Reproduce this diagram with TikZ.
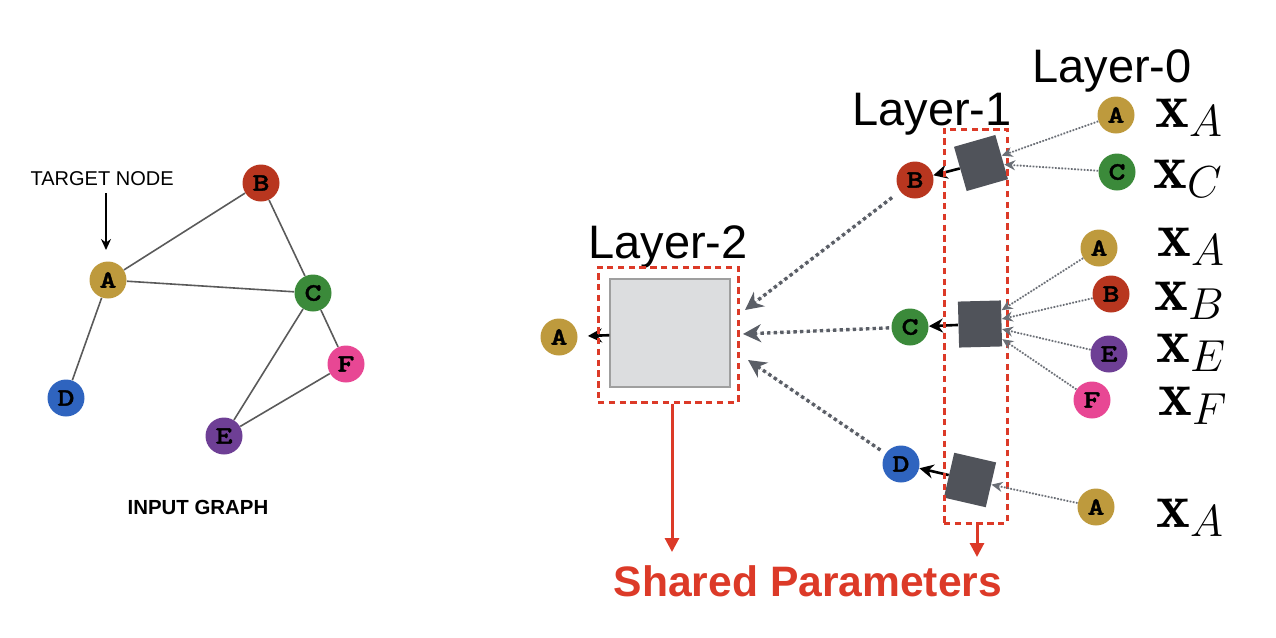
\RequirePackage{fix-cm}
\documentclass[tikz,border=0pt]{standalone}
\usepackage{fontspec}
\usetikzlibrary{arrows.meta}
\newfontfamily\helv{Liberation Sans}
\newfontfamily\monob{lmmonolt10-bold.otf}[FakeStretch=1.3,FakeBold=1.5]
\definecolor{cA}{HTML}{BE9A3D}
\definecolor{cB}{HTML}{B8361F}
\definecolor{cC}{HTML}{3B8A3A}
\definecolor{cD}{HTML}{2F64BF}
\definecolor{cE}{HTML}{6E3F95}
\definecolor{cF}{HTML}{E84794}
\definecolor{edgegray}{HTML}{5A5A5A}
\definecolor{arrgray}{HTML}{6A6E75}
\definecolor{arrgraytwo}{HTML}{5A5E66}
\definecolor{sqdark}{HTML}{50535A}
\definecolor{sqlight}{HTML}{DCDDDF}
\definecolor{sred}{HTML}{DC3A28}
\begin{document}
\begin{tikzpicture}[x=0.5pt,y=-0.5pt,
  gnode/.style={circle, fill=#1, minimum size=18.5pt, inner sep=0pt,
    font=\monob\fontsize{12.5}{12.5}\selectfont},
  gedge/.style={draw=edgegray, line width=0.8pt},
  thinarr/.style={draw=arrgray, line width=0.9pt, dash pattern=on 0.8pt off 0.8pt,
    -{Stealth[length=5.5pt,width=5pt]}, fill=arrgray},
  thickarr/.style={draw=arrgraytwo, line width=1.7pt, dash pattern=on 1.7pt off 1.6pt,
    -{Stealth[length=9pt,width=9pt]}, fill=arrgraytwo},
  blkarr/.style={draw=black, line width=1.3pt, -{Stealth[length=7pt,width=7pt]}},
  redbox/.style={draw=sred, line width=1.5pt, dash pattern=on 3.2pt off 2.2pt,
    rectangle, inner sep=0pt},
  redarr/.style={draw=sred, line width=1.5pt, -{Triangle[length=7pt,width=7pt]}, fill=sred},
  darksq/.style={fill=sqdark, rectangle, minimum width=21.5pt, minimum height=23pt, inner sep=0pt},
  xlab/.style={anchor=base west, inner sep=0pt, text height=14.5pt, text depth=6pt,
    font=\fontsize{32}{34}\selectfont},
  laylab/.style={anchor=base west, inner sep=0pt, text depth=4pt, font=\helv\fontsize{23.5}{26}\selectfont}
]
\useasboundingbox (0,0) rectangle (1276,638);

% ---------------- input graph ----------------
\node[gnode=cB] (gB) at (261,183) {B};
\node[gnode=cA] (gA) at (108,280) {A};
\node[gnode=cC] (gC) at (313,293) {C};
\node[gnode=cD] (gD) at (66,398) {D};
\node[gnode=cF] (gF) at (346,364) {F};
\node[gnode=cE] (gE) at (224,436) {E};
\draw[gedge] (gA) -- (gB);
\draw[gedge] (gA) -- (gC);
\draw[gedge] (gA) -- (gD);
\draw[gedge] (gB) -- (gC);
\draw[gedge] (gC) -- (gE);
\draw[gedge] (gC) -- (gF);
\draw[gedge] (gE) -- (gF);
\node[anchor=base east, inner sep=0pt, font=\helv\fontsize{10}{12}\selectfont] (tgt) at (174,185) {TARGET NODE};
\coordinate (tgtend) at (106,250);
\draw[black, line width=0.8pt, -{Stealth[length=5.5pt,width=5pt]}] (106,193) -- (tgtend);
\node[anchor=base, inner sep=0pt, font=\helv\bfseries\fontsize{10.2}{12}\selectfont] (ig) at (198,514) {INPUT GRAPH};

% ---------------- layer 2 ----------------
\node[laylab] (lay2) at (588,258) {Layer-2};
\node[rectangle, fill=sqlight, draw=gray!75, line width=0.6pt, minimum width=60pt, minimum height=54pt, inner sep=0pt] (l2sq) at (670,333) {};
\node[gnode=cA] (outA) at (559,337) {A};
\draw[blkarr, shorten >=5pt] (l2sq) -- (outA);
\node[redbox, minimum width=70pt, minimum height=67.5pt] (l2box) at (668,334.5) {};

% ---------------- layer 1 ----------------
\node[laylab] (lay1) at (852,125) {Layer-1};
\node[gnode=cB] (l1B) at (915,180) {B};
\node[gnode=cC] (l1C) at (910,327) {C};
\node[gnode=cD] (l1D) at (901,464) {D};
\node[darksq, rotate=16] (sq1) at (981,163) {};
\node[darksq, rotate=1.5] (sq2) at (980,324) {};
\node[darksq, rotate=-13] (sq3) at (970,480) {};
\draw[blkarr] (sq1) -- (l1B);
\draw[blkarr] (sq2) -- (l1C);
\draw[blkarr] (sq3) -- (l1D);
\node[redbox, minimum width=31.5pt, minimum height=197pt] (l1box) at (975.5,326) {};

\coordinate (tB) at (745,310);
\coordinate (tC) at (743,334);
\coordinate (tD) at (748,360);
\draw[thickarr, shorten <=5pt] (l1B) -- (tB);
\draw[thickarr, shorten <=1pt] (l1C) -- (tC);
\draw[thickarr, shorten <=3pt] (l1D) -- (tD);

% ---------------- layer 0 ----------------
\node[laylab] (lay0) at (1032,82) {Layer-0};
\node[gnode=cA] (z1) at (1116,115) {A};
\node[gnode=cC] (z2) at (1117,172) {C};
\node[gnode=cA] (z3) at (1099,248) {A};
\node[gnode=cB] (z4) at (1111,294) {B};
\node[gnode=cE] (z5) at (1109,354) {E};
\node[gnode=cF] (z6) at (1092,400) {F};
\node[gnode=cA] (z7) at (1096,507) {A};
\draw[thinarr] (z1) -- (sq1);
\draw[thinarr] (z2) -- (sq1);
\draw[thinarr] (z3) -- (sq2);
\draw[thinarr] (z4) -- (sq2);
\draw[thinarr] (z5) -- (sq2);
\draw[thinarr] (z6) -- (sq2);
\draw[thinarr] (z7) -- (sq3);

\node[xlab] (x1) at (1155,127) {$\mathbf{x}_A$};
\node[xlab] (x2) at (1153,188) {$\mathbf{x}_C$};
\node[xlab] (x3) at (1157,256) {$\mathbf{x}_A$};
\node[xlab] (x4) at (1154,310) {$\mathbf{x}_B$};
\node[xlab] (x5) at (1156,362) {$\mathbf{x}_E$};
\node[xlab] (x6) at (1158,415) {$\mathbf{x}_F$};
\node[xlab] (x7) at (1156,527) {$\mathbf{x}_A$};

% ---------------- shared parameters ----------------
\coordinate (sp1) at (672,552);
\coordinate (sp2) at (977,557);
\draw[redarr] (l2box.south -| sp1) -- (sp1);
\draw[redarr] (l1box.south -| sp2) -- (sp2);
\node[anchor=base, inner sep=0pt, text=sred, font=\helv\bfseries\fontsize{21.3}{24}\selectfont] (sp) at (808,596) {Shared Parameters};
\end{tikzpicture}
\end{document}
